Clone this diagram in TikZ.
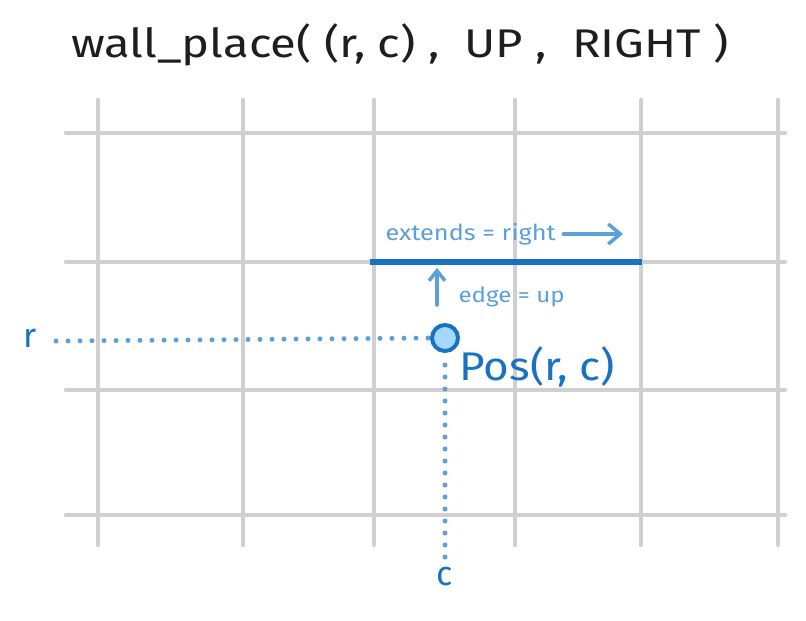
\documentclass[tikz,border=0pt]{standalone}
\usepackage{fontspec}
\setmainfont{Fira Sans}
\usetikzlibrary{arrows.meta}
\definecolor{inkblack}{HTML}{1E1E1E}
\definecolor{wallblue}{HTML}{1971C2}
\definecolor{softblue}{HTML}{5B9FDB}
\definecolor{fillblue}{HTML}{A5D8FF}
\definecolor{gridgray}{HTML}{D0D0D0}

\begin{document}
\begin{tikzpicture}[x=1pt,y=-1pt]
        \useasboundingbox (0,0) rectangle (806,621);
        % Title
        \node[inkblack] (title) at (400,45) {\scalebox{1.18}[1]{\fontsize{40}{46}\selectfont wall\_place( (r, c) ,\ \ UP ,\ \ RIGHT )}};
        % Grid
        \foreach \gx in {98,243,374,515,641,778}
            \draw[gridgray, line width=4.5pt, line cap=round] (\gx,100) -- (\gx,545);
        \foreach \gy in {133,262,390,515}
            \draw[gridgray, line width=4.5pt, line cap=round] (66,\gy) -- (785,\gy);
        % Wall
        \coordinate (wallL) at (370,262);
        \coordinate (wallR) at (642,262);
        \draw[wallblue, line width=5.5pt] (wallL) -- (wallR);
        % Position
        \node[circle, draw=wallblue, fill=fillblue, line width=4pt, minimum size=26pt, inner sep=0pt] (pos) at (445,338) {};
        \node[wallblue, anchor=west] (poslabel) at (456,367) {\scalebox{1.1}[1]{\fontsize{40}{46}\selectfont Pos(r, c)}};
        \node[wallblue] (rlabel) at (30,338) {\fontsize{34}{40}\selectfont r};
        \node[wallblue] (clabel) at (445,577) {\fontsize{34}{40}\selectfont c};
        \draw[softblue, line width=5pt, line cap=round, dash pattern=on 0pt off 12pt] (56,341) -- (pos.west);
        \draw[softblue, line width=5pt, line cap=round, dash pattern=on 0pt off 12pt] (pos.south) ++(0,12) -- (clabel.north);
        % Edge and extent
        \coordinate (edgefoot) at (437,305);
        \coordinate (edgehead) at (437,268);
        \draw[softblue, line width=3.5pt, line cap=round, -{Straight Barb[length=10pt,width=16pt]}] (edgefoot) -- (edgehead);
        \node[softblue, anchor=west] (edgelabel) at (455,297) {\scalebox{1.15}[1]{\fontsize{21}{25}\selectfont edge = up}};
        \node[softblue, anchor=west] (extlabel) at (382,234) {\scalebox{1.15}[1]{\fontsize{22}{26}\selectfont extends = right}};
        \coordinate (exthead) at (623,234);
        \draw[softblue, line width=3.5pt, line cap=round, -{Straight Barb[length=12pt,width=20pt]}] (extlabel.east) ++(4,0) -- (exthead);
    \end{tikzpicture}
\end{document}
